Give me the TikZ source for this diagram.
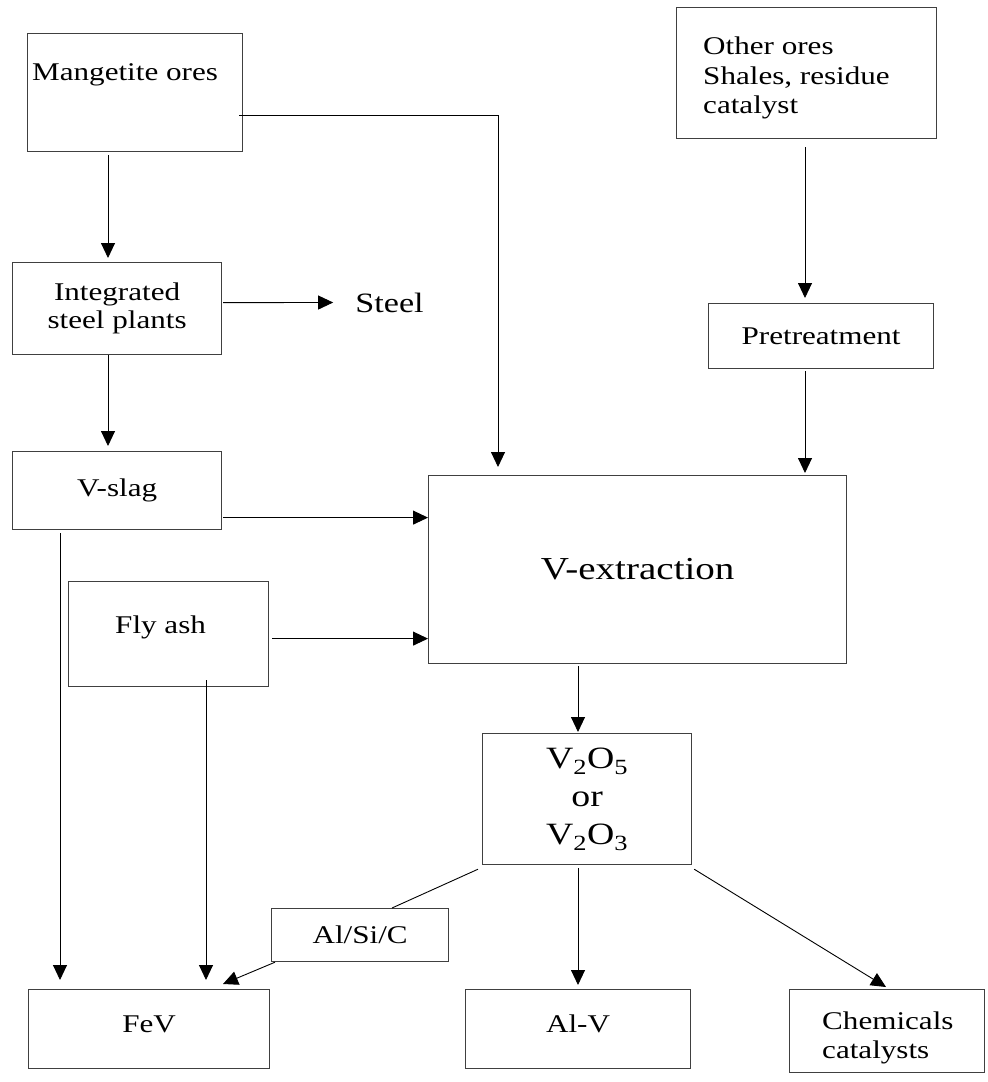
\documentclass[tikz,border=0pt]{standalone}
\usepackage{fontspec}
\setmainfont{Liberation Serif}[FakeStretch=1.22]
\usetikzlibrary{arrows.meta}
\newcommand\txtA{\fontsize{25.5}{28}\selectfont}
\newcommand\txtB{\fontsize{25.5}{29.5}\selectfont}
\newcommand\txtSteel{\fontsize{28}{32}\selectfont}
\newcommand\txtBig{\fontsize{32}{36}\selectfont}
\newcommand\txtOx{\fontsize{31}{38}\selectfont}
\begin{document}
\begin{tikzpicture}[x=1pt,y=-1pt,
  box/.style={draw=black!75, line width=1.2pt, rectangle, inner sep=0pt,
              anchor=north west, align=center, font=\txtA},
  lab/.style={inner sep=0pt, font=\txtB},
  arr/.style={draw=black, line width=0.9pt, -{Triangle[length=15pt,width=14pt]}},
  ln/.style={draw=black, line width=0.9pt}]
\useasboundingbox (0,0) rectangle (988,1082);

% boxes
\node[box, minimum width=215pt, minimum height=118pt,
      label={[lab, anchor=base west, xshift=5pt, yshift=-47pt]north west:Mangetite ores}]
      (mag) at (27,33) {};
\node[box, minimum width=260pt, minimum height=131pt,
      label={[lab, anchor=north west, align=left, xshift=27pt, yshift=-30pt]north west:{Other ores\\Shales, residue\\catalyst}}]
      (other) at (676,7) {};
\node[box, minimum width=209pt, minimum height=92pt] (intg) at (12,262) {Integrated\\steel plants};
\node[inner sep=0pt, font=\txtSteel] (steel) at (389.5,302.5) {Steel};
\node[box, minimum width=225pt, minimum height=65pt] (pre) at (708,303) {Pretreatment};
\node[box, minimum width=209pt, minimum height=78pt] (vslag) at (12,451) {V-slag};
\node[box, minimum width=418pt, minimum height=188pt, font=\txtBig] (vext) at (428,475) {V-extraction};
\node[box, minimum width=200pt, minimum height=105pt,
      label={[lab, anchor=base, xshift=-8pt, yshift=-52pt]north:Fly ash}]
      (fly) at (68,581) {};
\node[box, minimum width=209pt, minimum height=131pt, font=\txtOx] (vox) at (482,733)
      {V\textsubscript{2}O\textsubscript{5}\\or\\V\textsubscript{2}O\textsubscript{3}};
\node[box, minimum width=177pt, minimum height=53pt] (alsic) at (271,908) {Al/Si/C};
\node[box, minimum width=241pt, minimum height=79pt, text depth=10pt] (fev) at (28,989) {FeV};
\node[box, minimum width=225pt, minimum height=79pt, text depth=10pt] (alv) at (465,989) {Al-V};
\node[box, minimum width=195pt, minimum height=83pt,
      label={[lab, anchor=north west, align=left, xshift=33pt, yshift=-22.5pt]north west:{Chemicals\\catalysts}}]
      (chem) at (789,989) {};

% connectors
\draw[arr] ([xshift=81pt,yshift=-3pt]mag.south west) -- ([xshift=96pt,yshift=4pt]intg.north west);
\draw[arr] ([xshift=-4pt,yshift=37pt]mag.south east) -| ([xshift=70pt,yshift=8pt]vext.north west);
\draw[arr] ([xshift=1pt,yshift=6pt]intg.east) -- ([xshift=-22pt]steel.west);
\draw[arr] ([xshift=96pt]intg.south west) -- ([xshift=96pt,yshift=5pt]vslag.north west);
\draw[arr] ([xshift=1pt,yshift=-27pt]vslag.east) -- ([yshift=52pt]vext.west);
\draw[arr] ([xshift=3pt,yshift=-4.5pt]fly.east) -- ([yshift=-69pt]vext.west);
\draw[arr] ([xshift=48pt,yshift=-3pt]vslag.south west) -- ([xshift=32pt,yshift=9pt]fev.north west);
\draw[arr] ([xshift=138pt,yshift=7pt]fly.south west) -- ([xshift=178pt,yshift=9pt]fev.north west);
\draw[arr] ([xshift=129pt,yshift=-8pt]other.south west) -- ([xshift=97pt,yshift=5pt]pre.north west);
\draw[arr] ([xshift=97pt,yshift=-2pt]pre.south west) -- ([xshift=377pt,yshift=2pt]vext.north west);
\draw[arr] ([xshift=150pt,yshift=-2pt]vext.south west) -- ([xshift=96pt,yshift=1pt]vox.north west);
\draw[ln] ([xshift=-4pt,yshift=-4pt]vox.south west) -- ([xshift=121pt]alsic.north west);
\draw[arr] ([xshift=4pt]alsic.south west) -- ([xshift=195pt,yshift=5pt]fev.north west);
\draw[arr] ([xshift=96pt,yshift=-3pt]vox.south west) -- ([xshift=113pt,yshift=4pt]alv.north west);
\draw[arr] ([xshift=2pt,yshift=-4pt]vox.south east) -- ([xshift=97pt,yshift=2pt]chem.north west);
\end{tikzpicture}
\end{document}
